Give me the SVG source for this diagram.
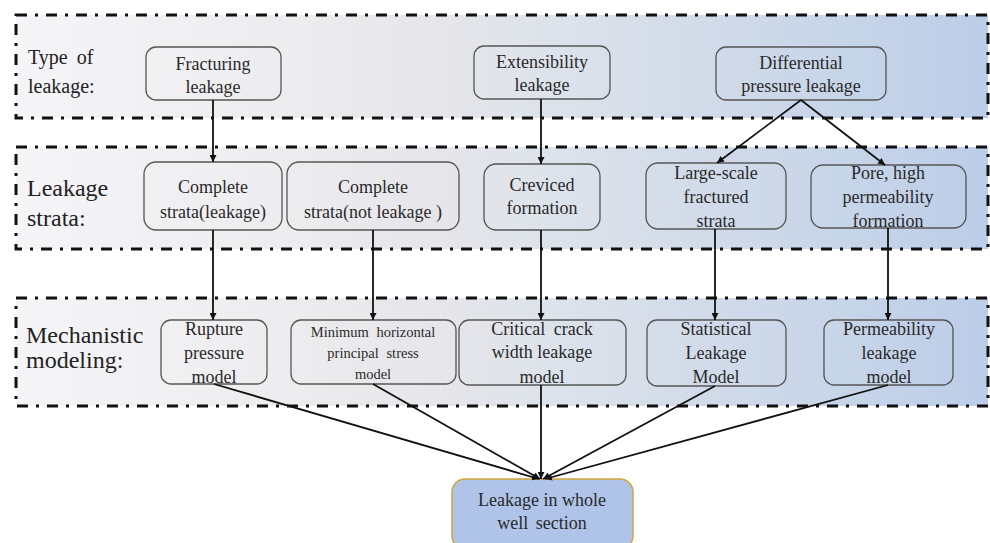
<svg xmlns="http://www.w3.org/2000/svg" width="990" height="543" viewBox="0 0 990 543" font-family="'Liberation Serif', 'Times New Roman', Times, 'DejaVu Serif', serif">
<defs>
<linearGradient id="bg" x1="0" y1="0" x2="1" y2="0">
<stop offset="0" stop-color="#f5f5f8"/>
<stop offset="0.3" stop-color="#ececee"/>
<stop offset="0.45" stop-color="#e5e5ea"/>
<stop offset="0.55" stop-color="#dde3eb"/>
<stop offset="0.7" stop-color="#d2dbe9"/>
<stop offset="0.85" stop-color="#c7d5e9"/>
<stop offset="1" stop-color="#bccde8"/>
</linearGradient>
<marker id="arr" viewBox="0 0 10 10" refX="10" refY="5" markerWidth="7" markerHeight="7" markerUnits="userSpaceOnUse" orient="auto">
<path d="M0,0 L10,5 L0,10 z" fill="#111"/>
</marker>
</defs>
<style>
.band{fill:url(#bg);stroke:#111;stroke-width:3;stroke-dasharray:11 8 3 8;}
.node{fill:none;stroke:#555;stroke-width:1.3;}
.lbl{font-family:'Liberation Serif','Times New Roman',Times,'DejaVu Serif',serif;fill:#222;}
.t{font-family:'Liberation Serif','Times New Roman',Times,'DejaVu Serif',serif;font-size:18px;fill:#2a2a2a;text-anchor:middle;}
.s{font-size:14.5px;word-spacing:4px;}
.c{stroke:#111;stroke-width:1.8;fill:none;marker-end:url(#arr);}
</style>
<rect width="990" height="543" fill="#ffffff"/>
<g id="bands">
<rect class="band" x="16" y="15" width="972" height="103"/>
<rect class="band" x="16" y="147" width="972" height="102"/>
<rect class="band" x="16" y="298" width="972" height="108"/>
</g>
<g id="labels">
<text class="lbl" x="28" y="64" font-size="20" word-spacing="4">Type of</text>
<text class="lbl" x="28" y="93" font-size="20">leakage:</text>
<text class="lbl" x="27" y="196" font-size="24">Leakage</text>
<text class="lbl" x="27" y="226" font-size="24">strata:</text>
<text class="lbl" x="26" y="343" font-size="24">Mechanistic</text>
<text class="lbl" x="26" y="368" font-size="24">modeling:</text>
</g>
<g id="n-fracturing"><rect class="node" x="146" y="47" width="135" height="53" rx="10"/><text class="t" x="213" y="70">Fracturing</text><text class="t" x="213" y="93">leakage</text></g>
<g id="n-extensibility"><rect class="node" x="474" y="46" width="136" height="53" rx="10"/><text class="t" x="542" y="68">Extensibility</text><text class="t" x="542" y="91">leakage</text></g>
<g id="n-differential"><rect class="node" x="716" y="47" width="170" height="53" rx="10"/><text class="t" x="801" y="69">Differential</text><text class="t" x="801" y="92">pressure leakage</text></g>
<g id="n-complete-leak"><rect class="node" x="144" y="162" width="138" height="68" rx="12"/><text class="t" x="213" y="193">Complete</text><text class="t" x="213" y="218">strata(leakage)</text></g>
<g id="n-complete-notleak"><rect class="node" x="287" y="162" width="172" height="68" rx="12"/><text class="t" x="373" y="193">Complete</text><text class="t" x="373" y="218">strata(not leakage )</text></g>
<g id="n-creviced"><rect class="node" x="484" y="164" width="116" height="66" rx="12"/><text class="t" x="542" y="191">Creviced</text><text class="t" x="542" y="214">formation</text></g>
<g id="n-largescale"><rect class="node" x="646" y="163" width="140" height="66" rx="12"/><text class="t" x="716" y="179">Large-scale</text><text class="t" x="716" y="203">fractured</text><text class="t" x="716" y="227">strata</text></g>
<g id="n-pore"><rect class="node" x="811" y="165" width="155" height="63" rx="12"/><text class="t" x="888" y="179">Pore, high</text><text class="t" x="888" y="203">permeability</text><text class="t" x="888" y="227">formation</text></g>
<g id="n-rupture"><rect class="node" x="161" y="320" width="106" height="64" rx="10"/><text class="t" x="214" y="335">Rupture</text><text class="t" x="214" y="359">pressure</text><text class="t" x="214" y="383">model</text></g>
<g id="n-minhoriz"><rect class="node" x="291" y="320" width="165" height="64" rx="10"/><text class="t s" x="373" y="337">Minimum horizontal</text><text class="t s" x="373" y="358">principal stress</text><text class="t s" x="373" y="379">model</text></g>
<g id="n-critical"><rect class="node" x="459" y="320" width="167" height="65" rx="10"/><text class="t" x="542" y="335" word-spacing="4">Critical crack</text><text class="t" x="542" y="358">width leakage</text><text class="t" x="542" y="383">model</text></g>
<g id="n-statistical"><rect class="node" x="647" y="320" width="139" height="66" rx="10"/><text class="t" x="716" y="335">Statistical</text><text class="t" x="716" y="359">Leakage</text><text class="t" x="716" y="383">Model</text></g>
<g id="n-permeability"><rect class="node" x="824" y="320" width="129" height="65" rx="10"/><text class="t" x="889" y="335">Permeability</text><text class="t" x="889" y="359">leakage</text><text class="t" x="889" y="383">model</text></g>
<g id="n-whole"><rect x="452" y="479" width="181" height="70" rx="13" fill="#afc4e8" stroke="#d4a53a" stroke-width="1.5"/><text class="t" x="542" y="506">Leakage in whole</text><text class="t" x="542" y="529" word-spacing="3">well section</text></g>
<g id="connectors">
<line class="c" x1="213" y1="100" x2="213" y2="162"/>
<line class="c" x1="541" y1="99" x2="541" y2="164"/>
<line class="c" x1="801" y1="100" x2="717" y2="163"/>
<line class="c" x1="801" y1="100" x2="885" y2="165"/>
<line class="c" x1="213" y1="230" x2="213" y2="320"/>
<line class="c" x1="373" y1="230" x2="373" y2="320"/>
<line class="c" x1="541" y1="230" x2="541" y2="320"/>
<line class="c" x1="715" y1="229" x2="715" y2="320"/>
<line class="c" x1="888" y1="228" x2="888" y2="320"/>
<line class="c" x1="214" y1="384" x2="539" y2="479"/>
<line class="c" x1="373" y1="384" x2="540" y2="479"/>
<line class="c" x1="541" y1="385" x2="541" y2="479"/>
<line class="c" x1="715" y1="386" x2="543" y2="479"/>
<line class="c" x1="888" y1="385" x2="545" y2="479"/>
</g>
</svg>
